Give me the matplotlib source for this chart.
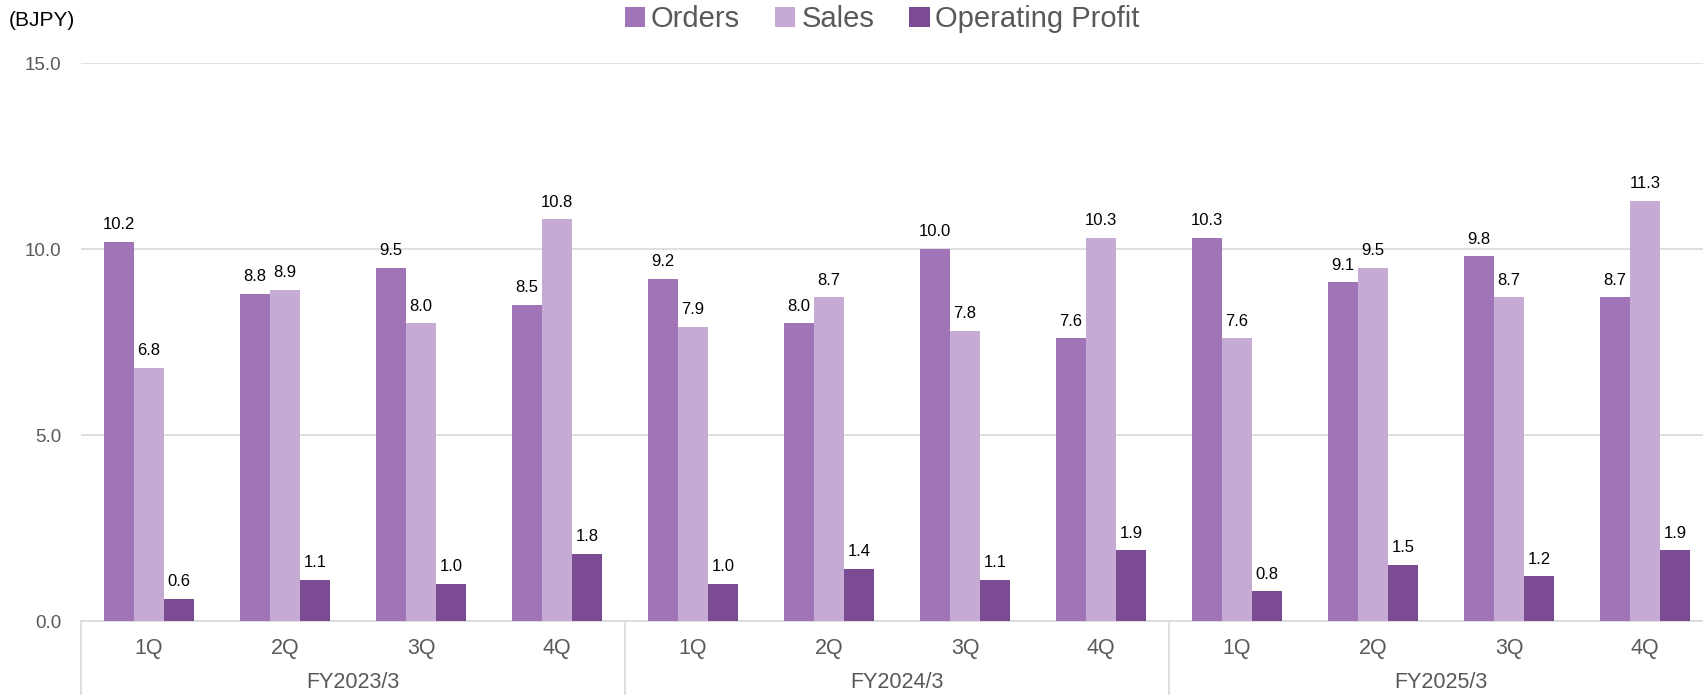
import numpy as np
import matplotlib.pyplot as plt
from matplotlib.transforms import blended_transform_factory

plt.rcParams['font.family'] = ['Liberation Sans', 'DejaVu Sans']

fiscal_years = ['FY2023/3', 'FY2024/3', 'FY2025/3']
quarters = ['1Q', '2Q', '3Q', '4Q']

orders = [10.2, 8.8, 9.5, 8.5, 9.2, 8.0, 10.0, 7.6, 10.3, 9.1, 9.8, 8.7]
sales = [6.8, 8.9, 8.0, 10.8, 7.9, 8.7, 7.8, 10.3, 7.6, 9.5, 8.7, 11.3]
op_profit = [0.6, 1.1, 1.0, 1.8, 1.0, 1.4, 1.1, 1.9, 0.8, 1.5, 1.2, 1.9]

series = [('Orders', orders, '#A074B6'),
          ('Sales', sales, '#C5AAD4'),
          ('Operating Profit', op_profit, '#7B4C94')]

fig = plt.figure(figsize=(17.03, 6.95), dpi=100)
ax = fig.add_axes([81 / 1703, 1 - 621 / 695, 1632 / 1703, 558 / 695])

x = np.arange(len(orders))
w = 0.215
step = 0.22
for i, (name, vals, col) in enumerate(series):
    pos = x + (i - 1) * step
    bars = ax.bar(pos, vals, width=w, color=col, label=name, zorder=3)
    for b, v in zip(bars, vals):
        ax.annotate('%.1f' % v, (b.get_x() + b.get_width() / 2, v),
                    xytext=(0, 7), textcoords='offset points',
                    ha='center', va='bottom', fontsize=12, color='black')

ax.set_xlim(-0.5, len(orders) - 0.5)
ax.set_ylim(0, 15)
ax.set_yticks([0, 5, 10, 15])
ax.set_yticklabels(['%.1f' % t for t in [0, 5, 10, 15]])
ax.tick_params(axis='y', length=0, pad=14, labelsize=13.5, labelcolor='#595959')
ax.yaxis.grid(True, color='#D9D9D9', linewidth=1.2)
ax.set_axisbelow(True)
for s in ['top', 'right', 'left']:
    ax.spines[s].set_visible(False)
ax.spines['bottom'].set_color('#D9D9D9')
ax.spines['bottom'].set_linewidth(1.2)

ax.set_xticks(x)
ax.set_xticklabels(quarters * len(fiscal_years))
ax.tick_params(axis='x', length=0, pad=12, labelsize=15.5, labelcolor='#595959')

trans = blended_transform_factory(ax.transData, ax.transAxes)
for k in range(len(fiscal_years) + 1):
    ax.plot([k * 4 - 0.5, k * 4 - 0.5], [0, -0.2], transform=trans,
            color='#D9D9D9', linewidth=1.2, clip_on=False)
for k, fy in enumerate(fiscal_years):
    ax.text(k * 4 + 1.5, -0.11, fy, transform=trans, ha='center', va='center',
            fontsize=15.5, color='#595959')

fig.text(0.005, 0.97, '(BJPY)', ha='left', va='center', fontsize=15, color='black')
fig.legend(loc='center', bbox_to_anchor=(0.518, 0.972), ncol=3, frameon=False,
           fontsize=21, labelcolor='#595959', handlelength=0.7, handleheight=0.7,
           handletextpad=0.2, columnspacing=1.2)

fig.savefig('out.png', dpi=100)
